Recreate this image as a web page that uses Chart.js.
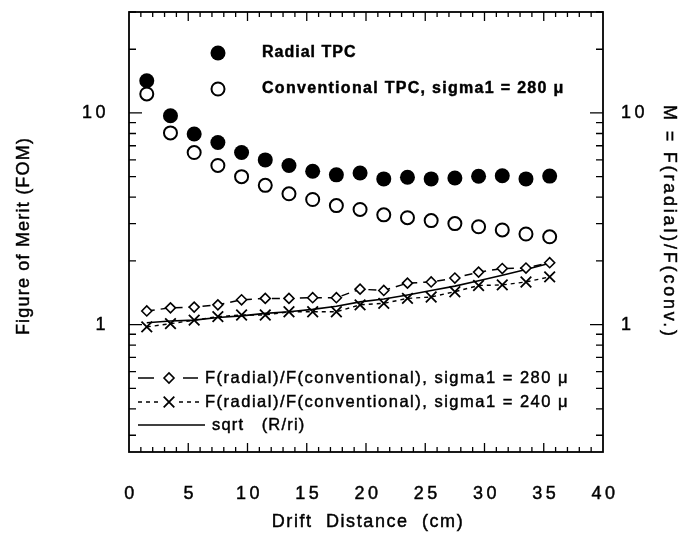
<!DOCTYPE html>
<html>
<head>
<meta charset="utf-8">
<script src="https://cdn.jsdelivr.net/npm/chart.js@4.4.1/dist/chart.umd.min.js"></script>
<style>
  html, body { margin: 0; padding: 0; background: #fff; }
  #wrap { width: 694px; height: 536px; }
</style>
</head>
<body>
<div id="wrap"><canvas id="fomChart" width="694" height="536"></canvas></div>
<script>
// drift distance of each measurement (cm)
var drift = [1.5, 3.5, 5.5, 7.5, 9.5, 11.5, 13.5, 15.5, 17.5, 19.5, 21.5, 23.5, 25.5, 27.5, 29.5, 31.5, 33.5, 35.5];

// figure of merit
var radialFom = [14.2, 9.7, 7.95, 7.25, 6.5, 6.0, 5.65, 5.3, 5.1, 5.2, 4.88, 4.97, 4.88, 4.93, 5.02, 5.05, 4.88, 5.03];
var convFom = [12.3, 8.05, 6.5, 5.65, 5.0, 4.55, 4.15, 3.9, 3.65, 3.5, 3.3, 3.2, 3.1, 3.0, 2.9, 2.8, 2.68, 2.6];

// ratio M = F(radial)/F(conv.)
var ratio280 = [1.16, 1.2, 1.21, 1.24, 1.31, 1.33, 1.33, 1.34, 1.34, 1.47, 1.45, 1.57, 1.59, 1.66, 1.77, 1.84, 1.85, 1.96];
var ratio240 = [0.975, 1.01, 1.05, 1.09, 1.11, 1.11, 1.15, 1.15, 1.15, 1.24, 1.26, 1.33, 1.35, 1.43, 1.53, 1.54, 1.59, 1.68];
var sqrtCurve = [1.02, 1.04, 1.05, 1.08, 1.1, 1.13, 1.15, 1.18, 1.22, 1.28, 1.32, 1.38, 1.45, 1.52, 1.61, 1.71, 1.82, 1.95];

// axes
var xTicks = [0, 5, 10, 15, 20, 25, 30, 35, 40];
var yLabelled = [1, 10];
var yMinor = [0.3, 0.4, 0.5, 0.6, 0.7, 0.8, 0.9, 2, 3, 4, 5, 6, 7, 8, 9, 20, 30];

function pts(ys) {
    return drift.map(function(x, i) { return { x: x, y: ys[i] }; });
}

var FONT = '"Liberation Sans", Arial, sans-serif';

// text with letter spacing; a hairline stroke gives the heavier plotter look
function txt(ctx, s, x, y, font, align, spacing, rot) {
    ctx.save();
    ctx.font = font + ' ' + FONT;
    ctx.letterSpacing = (spacing || 0) + 'px';
    ctx.fillStyle = '#000';
    ctx.strokeStyle = '#000';
    ctx.lineWidth = 0.45;
    ctx.textBaseline = 'middle';
    ctx.translate(x, y);
    if (rot) ctx.rotate(rot);
    var w = ctx.measureText(s).width;
    var dx = align === 'center' ? -w / 2 : (align === 'right' ? -w : 0);
    ctx.textAlign = 'left';
    ctx.fillText(s, dx, 0);
    ctx.strokeText(s, dx, 0);
    ctx.restore();
}

var framePlugin = {
    id: 'frame',
    afterDatasetsDraw: function(chart) {
        var ctx = chart.ctx, a = chart.chartArea;
        var xs = chart.scales.x, ys = chart.scales.y;
        ctx.save();
        ctx.strokeStyle = '#000';
        ctx.lineWidth = 1.8;
        ctx.strokeRect(a.left, a.top, a.right - a.left, a.bottom - a.top);

        // inward ticks, x every cm, longer every 5
        ctx.lineWidth = 1.3;
        ctx.beginPath();
        for (var v = 1; v < 40; v++) {
            var px = xs.getPixelForValue(v);
            var len = v % 5 === 0 ? 9 : 5;
            ctx.moveTo(px, a.bottom); ctx.lineTo(px, a.bottom - len);
            ctx.moveTo(px, a.top); ctx.lineTo(px, a.top + len);
        }
        yMinor.forEach(function(v) {
            var py = ys.getPixelForValue(v);
            ctx.moveTo(a.left, py); ctx.lineTo(a.left + 7, py);
            ctx.moveTo(a.right, py); ctx.lineTo(a.right - 7, py);
        });
        yLabelled.forEach(function(v) {
            var py = ys.getPixelForValue(v);
            ctx.moveTo(a.left, py); ctx.lineTo(a.left + 13, py);
            ctx.moveTo(a.right, py); ctx.lineTo(a.right - 13, py);
        });
        ctx.stroke();
        ctx.restore();

        // tick labels
        xTicks.forEach(function(v) {
            txt(ctx, String(v), xs.getPixelForValue(v) + 2, a.bottom + 42, '18px', 'center', 3.5);
        });
        yLabelled.forEach(function(v) {
            var py = ys.getPixelForValue(v);
            txt(ctx, String(v), a.left - 20, py, '18px', 'right', 3.5);
            txt(ctx, String(v), a.right + 18, py, '18px', 'left', 3.5);
        });

        // axis titles
        txt(ctx, 'Drift  Distance  (cm)', (a.left + a.right) / 2 + 2, a.bottom + 70, '18px', 'center', 1.6);
        txt(ctx, 'Figure of Merit (FOM)', 24, (a.top + a.bottom) / 2 + 4, '18px', 'center', 1.2, -Math.PI / 2);
        txt(ctx, 'M = F(radial)/F(conv.)', a.right + 66, a.top + 210, '18px', 'center', 2.8, Math.PI / 2);

        drawLegend(ctx, a);
    }
};

function marker(ctx, style, x, y, r, fill, bw) {
    ctx.save();
    ctx.strokeStyle = '#000';
    ctx.fillStyle = fill;
    ctx.lineWidth = bw;
    Chart.helpers.drawPoint(ctx, { pointStyle: style, radius: r, borderWidth: bw }, x, y);
    ctx.restore();
}

function dashLine(ctx, x1, x2, y, dash) {
    ctx.save();
    ctx.strokeStyle = '#000';
    ctx.lineWidth = 1.5;
    ctx.setLineDash(dash);
    ctx.beginPath();
    ctx.moveTo(x1, y); ctx.lineTo(x2, y);
    ctx.stroke();
    ctx.restore();
}

function drawLegend(ctx, a) {
    var lx = a.left + 89;
    marker(ctx, 'circle', lx, a.top + 41, 7.5, '#000', 0);
    txt(ctx, 'Radial TPC', a.left + 133, a.top + 41, 'bold 16px', 'left', 1.0);
    marker(ctx, 'circle', lx, a.top + 77, 6.5, '#fff', 2);
    txt(ctx, 'Conventional TPC, sigma1 = 280 \u03bc', a.left + 133, a.top + 77, 'bold 16px', 'left', 1.3);

    var sx = a.left + 9;
    dashLine(ctx, sx, sx + 16, a.top + 366, []);
    dashLine(ctx, sx + 45, sx + 60, a.top + 366, []);
    marker(ctx, 'rectRot', sx + 31, a.top + 366, 5, '#fff', 1.6);
    txt(ctx, 'F(radial)/F(conventional), sigma1 = 280 \u03bc', a.left + 76, a.top + 366, '16.5px', 'left', 1.5);

    dashLine(ctx, sx, sx + 22, a.top + 390, [4, 4]);
    dashLine(ctx, sx + 41, sx + 64, a.top + 390, [4, 4]);
    marker(ctx, 'crossRot', sx + 31, a.top + 390, 7.5, '#fff', 1.8);
    txt(ctx, 'F(radial)/F(conventional), sigma1 = 240 \u03bc', a.left + 76, a.top + 390, '16.5px', 'left', 1.5);

    dashLine(ctx, sx, sx + 67, a.top + 413, []);
    txt(ctx, 'sqrt   (R/ri)', a.left + 83, a.top + 413, '16.5px', 'left', 1.2);
}

var config = {
    type: 'scatter',
    data: {
        datasets: [{
            label: 'Radial TPC',
            data: pts(radialFom),
            pointStyle: 'circle',
            pointRadius: 7.5,
            backgroundColor: '#000',
            borderColor: '#000',
            borderWidth: 0,
            order: 1
        }, {
            label: 'Conventional TPC, sigma1 = 280 \u03bc',
            data: pts(convFom),
            pointStyle: 'circle',
            pointRadius: 6.5,
            backgroundColor: '#fff',
            borderColor: '#000',
            borderWidth: 2,
            order: 2
        }, {
            label: 'F(radial)/F(conventional), sigma1 = 280 \u03bc',
            data: pts(ratio280),
            showLine: true,
            borderDash: [8, 6],
            pointStyle: 'rectRot',
            pointRadius: 5,
            pointBackgroundColor: '#fff',
            borderColor: '#000',
            borderWidth: 1.5,
            pointBorderWidth: 1.6,
            order: 3
        }, {
            label: 'F(radial)/F(conventional), sigma1 = 240 \u03bc',
            data: pts(ratio240),
            showLine: true,
            borderDash: [4, 4],
            pointStyle: 'crossRot',
            pointRadius: 7.5,
            borderColor: '#000',
            borderWidth: 1.4,
            pointBorderWidth: 1.8,
            order: 4
        }, {
            label: 'sqrt (R/ri)',
            data: pts(sqrtCurve),
            showLine: true,
            pointRadius: 0,
            borderColor: '#000',
            borderWidth: 1.6,
            order: 5
        }]
    },
    options: {
        responsive: false,
        animation: false,
        layout: { padding: { top: 12, left: 0, right: 0, bottom: 0 } },
        plugins: {
            legend: { display: false },
            tooltip: { enabled: false },
            title: { display: false }
        },
        scales: {
            x: {
                type: 'linear', position: 'bottom', min: 0, max: 40,
                grid: { display: false }, border: { display: false },
                ticks: { display: false },
                afterFit: function(s) { s.height = 84; }
            },
            y: {
                type: 'logarithmic', position: 'left', min: 0.25, max: 30,
                grid: { display: false }, border: { display: false },
                ticks: { display: false },
                afterFit: function(s) { s.width = 129; }
            },
            y2: {
                type: 'logarithmic', position: 'right', min: 0.25, max: 30,
                grid: { display: false }, border: { display: false },
                ticks: { display: false },
                afterFit: function(s) { s.width = 91; }
            }
        }
    },
    plugins: [framePlugin]
};

var ctx = document.getElementById('fomChart').getContext('2d');
window.fomChart = new Chart(ctx, config);
</script>
</body>
</html>
